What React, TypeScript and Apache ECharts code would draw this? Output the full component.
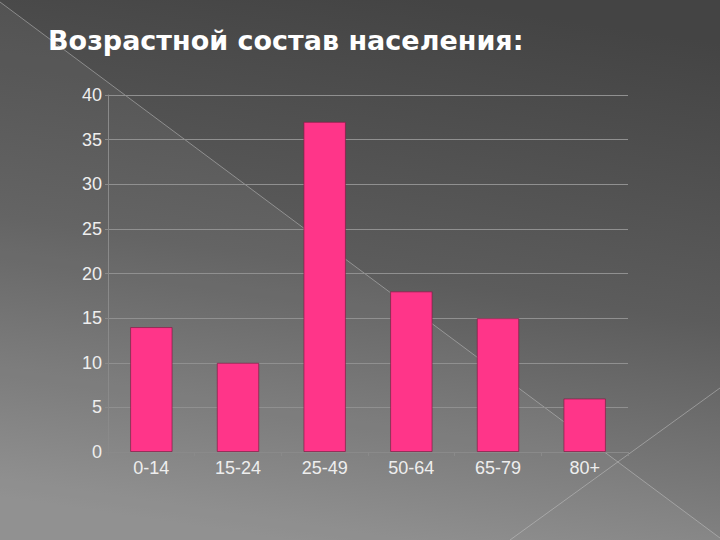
import React, { useEffect, useRef } from "react";
import * as echarts from "echarts";

const categories = ["0-14", "15-24", "25-49", "50-64", "65-79", "80+"];
const values = [14, 10, 37, 18, 15, 6];
const titleText = "Возрастной состав населения:";

export default function App() {
  const ref = useRef<HTMLDivElement>(null);
  useEffect(() => {
    if (!ref.current) return;
    const chart = echarts.init(ref.current, undefined, { renderer: "svg" });
    chart.setOption({
      animation: false,
      backgroundColor: new echarts.graphic.LinearGradient(0.6, 0, 0.4, 1, [
        { offset: 0, color: "#444444" },
        { offset: 0.5, color: "#5c5c5c" },
        { offset: 1, color: "#8c8c8c" },
      ]),
      graphic: [
        {
          type: "polygon",
          z: -10,
          silent: true,
          shape: { points: [[0, 2], [720, 538], [720, 540], [0, 540]] },
          style: { fill: "rgba(255,255,255,0.05)" },
        },
        {
          type: "line",
          z: -9,
          silent: true,
          shape: { x1: 0, y1: 2, x2: 720, y2: 538 },
          style: { stroke: "rgba(200,200,200,0.5)", lineWidth: 1 },
        },
        {
          type: "line",
          z: -9,
          silent: true,
          shape: { x1: 510, y1: 540, x2: 720, y2: 388 },
          style: { stroke: "rgba(200,200,200,0.5)", lineWidth: 1 },
        },
      ],
      title: {
        text: titleText,
        left: 43,
        top: 22,
        textStyle: {
          color: "#ffffff",
          fontSize: 27,
          fontWeight: "bold",
          fontFamily: "DejaVu Sans",
        },
      },
      grid: { left: 108, right: 92, top: 95, bottom: 88 },
      xAxis: {
        type: "category",
        data: categories,
        axisLine: { show: true, lineStyle: { color: "#8a8a8a", width: 1 } },
        axisTick: { show: true, length: 4, lineStyle: { color: "#8a8a8a" } },
        axisLabel: {
          color: "#eeeeee",
          fontSize: 18,
          fontFamily: "Liberation Sans",
          margin: 7,
        },
        splitLine: { show: false },
      },
      yAxis: {
        type: "value",
        min: 0,
        max: 40,
        interval: 5,
        axisLine: { show: true, lineStyle: { color: "#8a8a8a", width: 1 } },
        axisTick: { show: true, length: 3, lineStyle: { color: "#8a8a8a" } },
        axisLabel: {
          color: "#eeeeee",
          fontSize: 18,
          fontFamily: "Liberation Sans",
          margin: 6,
        },
        splitLine: { show: true, lineStyle: { color: "#909090", width: 1 } },
      },
      series: [
        {
          type: "bar",
          data: values,
          barWidth: "49%",
          itemStyle: {
            color: "#ff3589",
            borderColor: "rgba(130,30,70,0.7)",
            borderWidth: 1,
          },
        },
      ],
    });
    return () => chart.dispose();
  }, []);
  return (
    <div
      ref={ref}
      style={{ position: "fixed", left: 0, top: 0, width: 720, height: 540 }}
    />
  );
}
